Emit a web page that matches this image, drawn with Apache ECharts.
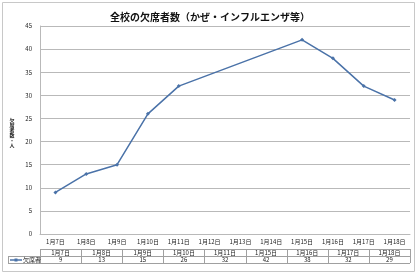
<!DOCTYPE html>
<html><head><meta charset="utf-8">
<script src="https://cdn.jsdelivr.net/npm/echarts@6/dist/echarts.min.js"></script>
<style>html,body{margin:0;padding:0;background:#fff}#c{width:420px;height:275px}</style>
</head><body><div id="c"></div>
<script>
const titleText = '全校の欠席者数（かぜ・インフルエンザ等）';
const axisDays = ['1月7日','1月8日','1月9日','1月10日','1月11日','1月12日','1月13日','1月14日','1月15日','1月16日','1月17日','1月18日'];
const tableDays = ['1月7日','1月8日','1月9日','1月10日','1月11日','1月15日','1月16日','1月17日','1月18日'];
const absentees = [9,13,15,26,32,42,38,32,29];
const seriesName = '欠席者';
const yAxisName = ['欠','席','者','数','・','人'];
const yTicks = {min:0, max:45, interval:5};

const lineData = axisDays.map(d => { const i = tableDays.indexOf(d); return i >= 0 ? absentees[i] : null; });

const font = '"Noto Sans CJK JP", sans-serif';
const L = 40, R = 410, T = 26, B = 234;
const rowTop = 249, rowMid = 256, rowBot = 263;
const lineColor = '#4a72a8', gridColor = '#b9b9b9', tableColor = '#a0a0a0';

const g = [];
g.push({type:'rect', shape:{x:2.5,y:2.5,width:412,height:269}, style:{fill:'none', stroke:'#c8c8c8', lineWidth:1}});
const colW = (R - L) / tableDays.length;
g.push({type:'line', shape:{x1:L,y1:rowTop+0.5,x2:R,y2:rowTop+0.5}, style:{stroke:tableColor,lineWidth:1}});
g.push({type:'line', shape:{x1:8,y1:rowMid+0.5,x2:R,y2:rowMid+0.5}, style:{stroke:tableColor,lineWidth:1}});
g.push({type:'line', shape:{x1:8,y1:rowBot+0.5,x2:R,y2:rowBot+0.5}, style:{stroke:tableColor,lineWidth:1}});
g.push({type:'line', shape:{x1:8.5,y1:rowMid,x2:8.5,y2:rowBot}, style:{stroke:tableColor,lineWidth:1}});
for (let i = 0; i <= tableDays.length; i++) {
  const x = Math.round(L + i*colW) + 0.5;
  g.push({type:'line', shape:{x1:x,y1:rowTop,x2:x,y2:rowBot}, style:{stroke:tableColor,lineWidth:1}});
}
tableDays.forEach((d, i) => {
  const cx = L + (i+0.5)*colW;
  g.push({type:'text', x:cx, y:(rowTop+rowMid)/2+0.5, style:{text:d, fontSize:6, fontFamily:font, fill:'#222', align:'center', verticalAlign:'middle'}});
  g.push({type:'text', x:cx, y:(rowMid+rowBot)/2+0.5, style:{text:String(absentees[i]), fontSize:6, fontFamily:font, fill:'#222', align:'center', verticalAlign:'middle'}});
});
g.push({type:'line', shape:{x1:10,y1:(rowMid+rowBot)/2+0.5,x2:22,y2:(rowMid+rowBot)/2+0.5}, style:{stroke:lineColor,lineWidth:1.5}});
g.push({type:'rect', shape:{x:14.5,y:(rowMid+rowBot)/2-1,width:3,height:3}, style:{fill:lineColor}});
g.push({type:'text', x:23, y:(rowMid+rowBot)/2+0.5, style:{text:seriesName, fontSize:6, fontFamily:font, fill:'#222', align:'left', verticalAlign:'middle'}});
// y axis name: upright characters stacked
const nameTop = 120, nameStep = 5;
yAxisName.forEach((ch, i) => {
  g.push({type:'text', x:12, y:nameTop + i*nameStep, style:{text:ch, fontSize:5, fontWeight:'bold', fontFamily:font, fill:'#222', align:'center', verticalAlign:'middle'}});
});

const chart = echarts.init(document.getElementById('c'), null, {renderer:'canvas'});
chart.setOption({
  animation:false,
  backgroundColor:'#fff',
  title:{text:titleText, left:'center', top:7, textStyle:{fontSize:10, fontWeight:'bold', fontFamily:font, color:'#111'}},
  grid:{left:L, right:420-R, top:T, bottom:275-B, containLabel:false},
  xAxis:{type:'category', data:axisDays, boundaryGap:true,
    axisLine:{lineStyle:{color:gridColor}}, axisTick:{show:false},
    axisLabel:{fontSize:6, fontFamily:font, color:'#222', margin:5, interval:0}},
  yAxis:{type:'value', min:yTicks.min, max:yTicks.max, interval:yTicks.interval,
    axisLine:{show:true, lineStyle:{color:gridColor}}, axisTick:{show:false},
    splitLine:{lineStyle:{color:gridColor}},
    axisLabel:{fontSize:6, fontFamily:font, color:'#222', margin:8}},
  series:[{type:'line', name:seriesName, data:lineData, connectNulls:true,
    symbol:'diamond', symbolSize:4, lineStyle:{color:lineColor, width:1.5},
    itemStyle:{color:lineColor}}],
  graphic:g
});
</script></body></html>
